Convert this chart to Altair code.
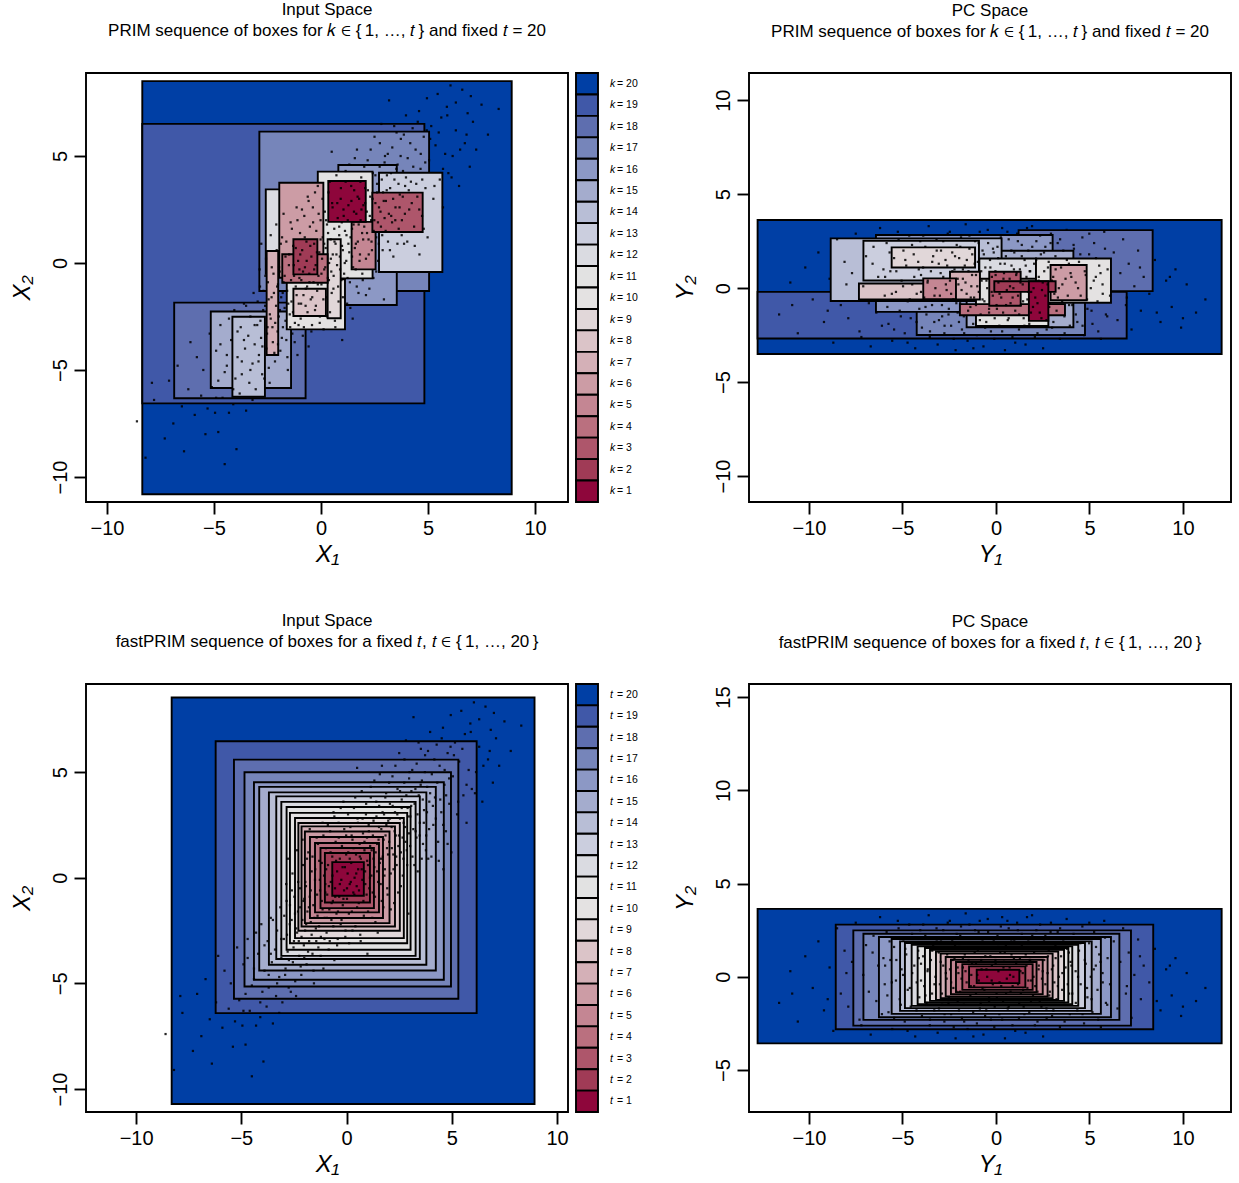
import altair as alt
import pandas as pd

FONT = "Liberation Sans"

# Box level, drawn from the outermost (20) to the innermost (1)
LEVELS = list(range(20, 0, -1))
PALETTE = ["#003FA5", "#4058A8", "#5E6EAF", "#7685BA", "#8C98C5", "#A4ACCD",
           "#B8BED6", "#CBCEDE", "#DADBE1", "#E2E2E2", "#E4E2E2", "#E1D7D9",
           "#DBC4C8", "#D4B0B7", "#CC9CA5", "#C48693", "#BA707F", "#AE566B",
           "#A03B56", "#8E063B"]

# PRIM boxes in input space (k = 20 .. 1)
PRIM_IN_X_LO = [-8.35, -8.35, -6.86, -2.88, 0.81, -5.15, -4.14, 2.71, -2.58, -0.15,
                -1.60, 0.31, -1.29, -2.54, -1.95, 1.43, -1.81, 2.40, -1.29, 0.34]
PRIM_IN_X_HI = [8.91, 4.83, -0.72, 5.05, 3.54, -1.40, -2.62, 5.67, 0.30, 2.41,
                1.12, 0.92, 0.23, -2.00, 0.11, 2.55, 0.31, 4.75, -0.17, 2.09]
PRIM_IN_Y_LO = [-10.81, -6.56, -6.32, -1.31, -1.96, -5.84, -6.25, -0.42, -0.50, -0.72,
                -3.10, -2.58, -2.48, -4.30, -0.69, -0.30, -0.92, 1.45, -0.53, 1.92]
PRIM_IN_Y_HI = [8.50, 6.50, -1.85, 6.14, 4.58, -2.27, -2.51, 4.22, 3.44, 4.27,
                -0.76, 1.11, -1.20, 0.56, 3.75, 1.92, 0.41, 3.29, 1.11, 3.83]

# PRIM boxes in PC space (k = 20 .. 1)
PRIM_PC_X_LO = [-12.75, -12.75, 1.21, -4.24, -6.42, -1.57, -8.84, -7.09, -0.89, -1.07,
                2.14, -5.58, -7.33, -2.46, 2.92, -3.89, -1.93, -0.36, -0.09, 1.76]
PRIM_PC_X_HI = [12.07, 6.99, 8.38, 4.76, 3.03, 4.14, 0.30, -0.91, 2.14, 2.80,
                6.15, -1.12, -1.30, -0.86, 4.85, -2.14, 3.69, 1.32, 3.19, 2.80]
PRIM_PC_Y_LO = [-3.50, -2.68, -0.16, -2.49, -1.26, -2.08, -0.68, 0.41, -1.00, -2.01,
                -0.78, 1.10, -0.60, -0.60, -0.64, -0.59, -1.44, -0.94, -0.20, -1.74]
PRIM_PC_Y_HI = [3.63, -0.20, 3.09, 0.60, 2.83, 1.99, 2.65, 2.52, 1.58, 0.50,
                1.58, 2.17, 0.25, 0.87, 1.23, 0.52, -0.85, 0.87, 0.37, 0.37]

# fastPRIM boxes in input space (t = 20 .. 1)
FAST_IN_X_LO = [-8.31, -6.22, -5.35, -4.85, -4.40, -4.15, -3.69, -3.34, -3.10, -2.85,
                -2.69, -2.45, -2.29, -2.14, -1.98, -1.74, -1.50, -1.24, -1.03, -0.68]
FAST_IN_X_HI = [8.93, 6.18, 5.31, 4.96, 4.62, 4.24, 3.79, 3.48, 3.28, 3.04,
                2.88, 2.72, 2.53, 2.30, 2.04, 1.73, 1.54, 1.30, 1.11, 0.82]
FAST_IN_Y_LO = [-10.71, -6.41, -5.73, -5.15, -4.83, -4.39, -4.12, -3.85, -3.70, -3.41,
                -3.10, -2.86, -2.51, -2.31, -2.15, -1.91, -1.64, -1.44, -1.17, -0.85]
FAST_IN_Y_HI = [8.53, 6.46, 5.59, 4.99, 4.52, 4.30, 4.04, 3.85, 3.59, 3.35,
                3.07, 2.83, 2.59, 2.43, 2.19, 1.93, 1.64, 1.41, 1.17, 0.74]

# fastPRIM boxes in PC space (t = 20 .. 1)
FAST_PC_X_LO = [-12.75, -8.57, -7.63, -7.09, -6.26, -5.58, -5.13, -4.87, -4.51, -4.19,
                -3.80, -3.53, -3.21, -2.96, -2.69, -2.41, -2.14, -1.80, -1.44, -1.03]
FAST_PC_X_HI = [12.07, 8.41, 7.22, 6.60, 6.15, 5.61, 5.12, 4.76, 4.40, 4.08,
                3.87, 3.64, 3.33, 3.03, 2.76, 2.50, 2.17, 1.96, 1.57, 1.25]
FAST_PC_Y_LO = [-3.57, -2.81, -2.62, -2.31, -2.17, -1.99, -1.83, -1.68, -1.56, -1.47,
                -1.38, -1.29, -1.24, -1.15, -1.06, -0.93, -0.82, -0.70, -0.57, -0.34]
FAST_PC_Y_HI = [3.64, 2.80, 2.49, 2.31, 2.13, 2.03, 1.90, 1.81, 1.72, 1.63,
                1.54, 1.45, 1.36, 1.24, 1.06, 0.91, 0.79, 0.68, 0.56, 0.38]

# Observations in input coordinates (X1, X2)
INPUT_POINTS = [
    (-8.6, -7.4), (-8.2, -9.1), (-7.9, -5.6), (-7.8, -6.4), (-7.3, -8.2), (-7.1, -5.5),
    (-6.9, -7.5), (-6.7, -4.8), (-6.5, -6.7), (-6.4, -8.8), (-6.2, -5.9), (-6.1, -3.7),
    (-5.9, -7.1), (-5.8, -4.4), (-5.6, -6.2), (-5.5, -5.0), (-5.4, -8.0), (-5.3, -6.8),
    (-5.2, -3.3), (-5.1, -5.8), (-4.95, -7.0), (-4.9, -4.1), (-4.8, -5.5), (-4.7, -2.9),
    (-4.6, -6.3), (-4.5, -9.4), (-4.4, -4.8), (-4.3, -7.0), (-4.2, -3.6), (-4.1, -5.9),
    (-4.05, -2.2), (-3.95, -8.7), (-3.9, -4.4), (-3.8, -6.1), (-3.75, -3.0), (-3.7, -5.2),
    (-3.6, -1.9), (-3.55, -4.0), (-3.5, -6.9), (-3.4, -3.4), (-3.35, -5.6), (-3.3, -2.5),
    (-3.2, -4.7), (-3.15, -1.4), (-3.1, -3.8), (-3.05, -5.9), (-2.98, -2.9), (-2.9, -4.3),
    (-2.85, -1.1), (-2.8, -3.5), (-2.75, -5.2), (-2.7, -2.2), (-2.6, -0.6), (-2.55, -4.0),
    (-2.5, -3.0), (-2.45, -1.7), (-2.4, -5.6), (-2.35, -2.6), (-2.3, -0.2), (-2.25, -3.7),
    (-2.2, -1.4), (-2.15, -4.6), (-2.1, -2.0), (-2.07, 0.6), (-2.03, -3.2), (-2.01, -1.0),
    (-1.97, -2.5), (-1.93, -0.4), (-1.9, -4.1), (-1.86, -1.6), (-1.82, 1.2), (-1.78, -3.0),
    (-1.75, -0.9), (-1.7, -2.1), (-1.66, 0.3), (-1.62, -3.6), (-1.58, -1.3), (-1.55, -5.0),
    (-1.5, -0.1), (-1.46, -2.4), (-1.42, 1.9), (-1.38, -1.8), (-1.34, -3.3), (-1.3, 0.8),
    (-1.26, -0.6), (-1.22, -2.8), (-1.18, -1.1), (-1.14, 2.6), (-1.1, -4.3), (-1.07, 0.1),
    (-1.04, -1.9), (-1.01, -0.3), (-0.98, 1.4), (-0.95, -2.6), (-0.92, -0.8), (-0.88, 0.6),
    (-0.85, -3.4), (-0.82, -1.5), (-0.78, 2.2), (-0.75, -0.2), (-0.72, -2.0), (-0.68, 1.0),
    (-0.65, -1.1), (-0.62, 3.1), (-0.58, -3.9), (-0.55, -0.5), (-0.52, 1.7), (-0.48, -1.7),
    (-0.45, 0.3), (-0.42, -2.9), (-0.38, 2.6), (-0.35, -0.9), (-0.32, 0.9), (-0.28, -2.2),
    (-0.25, -0.1), (-0.22, 1.5), (-0.18, -1.3), (-0.15, 3.6), (-0.12, -0.6), (-0.08, 0.5),
    (-0.05, -2.5), (-0.02, 2.0), (0.02, -1.0), (0.05, 0.2), (0.08, 1.2), (0.12, -3.1),
    (0.15, -0.3), (0.18, 2.4), (0.22, 0.7), (0.25, -1.6), (0.28, 1.8), (0.32, -0.7),
    (0.35, 3.3), (0.38, 0.0), (0.42, -2.3), (0.45, 1.1), (0.48, -0.4), (0.52, 2.8),
    (0.55, 0.4), (0.58, -1.2), (0.62, 1.6), (0.65, -2.7), (0.68, 0.9), (0.72, 4.1),
    (0.75, -0.1), (0.78, 2.1), (0.82, -1.8), (0.85, 1.3), (0.88, 0.3), (0.92, 3.0),
    (0.95, -0.8), (0.97, 1.9), (0.99, -3.6), (0.5, 5.2), (1.02, 0.6), (1.05, 2.5),
    (1.08, -0.5), (1.12, 1.5), (1.15, 3.8), (1.18, 0.1), (1.22, -1.9), (1.25, 2.0),
    (1.28, 0.9), (1.32, 4.6), (1.35, -0.9), (1.38, 1.2), (1.42, 2.9), (1.45, 0.3),
    (1.48, -2.6), (1.52, 1.8), (1.55, 3.4), (1.58, 0.7), (1.62, -0.3), (1.65, 2.3),
    (1.68, 5.3), (1.72, 1.0), (1.75, -1.4), (1.78, 3.0), (1.82, 0.4), (1.85, 2.0),
    (1.88, 4.0), (1.92, 1.4), (1.95, -0.8), (1.98, 2.7), (2.02, 1.7), (2.06, 3.5),
    (2.1, 0.2), (2.14, 2.4), (2.18, 4.8), (2.22, 1.1), (2.26, -1.2), (2.3, 3.1),
    (2.34, 2.0), (2.38, 0.6), (2.42, 4.2), (2.46, 1.5), (2.5, 5.9), (2.54, 2.8),
    (2.58, -0.4), (2.62, 3.7), (2.66, 1.9), (2.7, 0.9), (2.74, 4.5), (2.78, 2.4),
    (2.82, 6.5), (2.86, 1.3), (2.9, 3.3), (2.94, -1.7), (2.97, 2.1), (2.99, 5.0),
    (3.03, 2.9), (3.08, 4.1), (3.13, 1.0), (3.18, 7.6), (3.23, 3.5), (3.28, 2.2),
    (3.33, 5.4), (3.38, 0.3), (3.43, 3.9), (3.48, 2.6), (3.53, 6.1), (3.58, 4.6),
    (3.63, 1.6), (3.68, 3.2), (3.73, 5.8), (3.78, 2.0), (3.83, 4.3), (3.88, 0.9),
    (3.93, 3.6), (3.97, 6.9), (4.05, 4.9), (4.12, 2.5), (4.2, 3.8), (4.28, 6.3),
    (4.35, 1.7), (4.42, 5.3), (4.5, 3.1), (4.58, 7.1), (4.65, 4.4), (4.72, 2.2),
    (4.8, 5.9), (4.88, 3.5), (4.95, 7.7), (4.98, 1.2), (4.6, 0.4), (5.05, 4.8),
    (5.15, 6.4), (5.25, 3.0), (5.35, 5.5), (5.45, 7.9), (5.55, 3.9), (5.62, 6.8),
    (5.7, 2.6), (5.8, 5.1), (5.88, 7.3), (5.95, 4.2), (6.05, 8.3), (6.15, 5.0),
    (6.3, 6.2), (6.45, 3.6), (6.6, 8.1), (6.72, 5.6), (6.85, 7.0), (6.95, 4.5),
    (7.1, 6.6), (7.25, 5.3), (7.5, 7.4), (7.8, 6.0), (8.3, 7.2),
    (-2.96, -1.8), (-2.92, -4.6), (-2.87, -0.3), (-2.83, -2.7), (-2.79, 0.9), (-2.74, -3.9),
    (-2.69, -1.3), (-2.65, -5.4), (-2.61, -2.0), (-2.57, 0.2), (-2.52, -3.3), (-2.48, -0.9),
    (-2.44, -4.9), (-2.39, -2.4), (-2.35, 1.3), (-2.31, -1.6), (-2.27, -3.0), (-2.22, -0.5),
    (-2.18, -4.2), (-2.14, -2.8), (-2.09, 1.8), (-2.05, -1.1), (-2.01, -3.8), (-1.96, -0.2),
    (-1.92, -2.2), (-1.88, 0.9), (-1.83, -3.5), (-1.79, -1.4), (-1.75, 2.3), (-1.7, -0.6),
    (-1.66, -2.7), (-1.62, 1.0), (-1.57, -4.4), (-1.53, -1.9), (-1.49, 0.4), (-1.44, -3.0),
    (-1.4, -0.8), (-1.36, 1.6), (-1.31, -2.3), (-1.27, -0.1), (-1.23, -3.7), (-1.18, 0.7),
    (-1.14, -1.5), (-1.1, 2.0), (-1.05, -2.9), (-1.01, -0.7), (-0.97, 0.4), (-0.93, -1.9),
    (-0.89, 2.5), (-0.84, -0.4), (-0.8, -3.0), (-0.76, 1.2), (-0.71, -1.2), (-0.67, 0.1),
    (-0.63, -2.3), (-0.58, 2.9), (-0.54, -0.9), (-0.5, 0.8), (-0.45, -3.2), (-0.41, -1.6),
    (-0.37, 1.9), (-0.32, -0.3), (-0.28, 3.3), (-0.24, -2.0), (-0.19, 0.5), (-0.15, -1.0),
    (-0.11, 2.3), (-0.06, -2.8), (-0.02, 1.1), (0.02, -0.5), (0.07, 3.0), (0.11, -1.7),
    (0.15, 0.9), (0.2, -0.2), (0.24, 2.0), (0.28, -2.5), (0.33, 1.4), (0.37, -0.8),
    (0.41, 3.8), (0.46, 0.2), (0.5, -1.4), (0.54, 2.6), (0.59, -0.6), (0.63, 1.0),
    (0.67, -3.0), (0.72, 0.4), (0.76, 2.8), (0.8, -1.1), (0.85, 1.7), (0.89, -0.3),
    (0.93, 3.5), (0.98, 0.8), (1.02, -1.6), (1.06, 2.2), (1.11, 0.0), (1.15, 4.3),
    (1.19, 1.3), (1.24, -0.7), (1.28, 2.7), (1.32, 0.5), (1.37, -2.1), (1.41, 3.6),
    (1.45, 1.6), (1.5, -0.2), (1.54, 2.4), (1.58, 4.9), (1.63, 0.9), (1.67, -1.1),
    (1.71, 3.1), (1.76, 1.8), (1.8, 0.1), (1.84, 3.8), (1.89, 2.5), (1.93, -0.5),
    (1.97, 1.1), (2.02, 4.5), (2.06, 2.8), (2.1, -1.5), (2.15, 1.4), (2.19, 3.4),
    (2.23, 0.4), (2.28, 2.2), (2.32, 5.3), (2.36, 1.0), (2.41, 3.0), (2.45, -0.7),
    (2.49, 2.0), (2.54, 4.1), (2.58, 1.2), (2.62, 3.3), (2.67, 0.1), (2.71, 2.6),
    (2.75, 5.6), (2.8, 1.7), (2.84, 3.9), (2.88, 0.6), (2.93, 2.9), (2.97, 4.7),
    (3.02, 1.5), (3.07, 3.4), (3.12, 5.1), (3.17, 2.3), (3.22, 0.6), (3.27, 4.2),
    (3.32, 1.9), (3.37, 3.0), (3.42, 6.4), (3.47, 2.0), (3.52, 4.4), (3.57, 0.9),
    (3.62, 3.7), (3.67, 2.6), (3.72, 5.0), (3.77, 1.3), (3.82, 3.1), (3.87, 6.0),
    (3.92, 2.3), (3.97, 4.0), (4.03, 1.0), (4.1, 3.4), (4.17, 5.6), (4.24, 2.8),
    (4.31, 4.5), (4.38, 0.8), (4.45, 3.7), (4.52, 6.6), (4.59, 2.5), (4.66, 5.1),
    (4.73, 3.9), (4.8, 1.6), (4.87, 4.7), (4.94, 6.2), (-4.9, -6.3), (-4.7, -3.8),
    (-4.5, -5.1), (-4.3, -2.6), (-4.1, -6.6), (-3.9, -3.2), (-3.7, -4.6), (-3.5, -2.0),
    (-3.3, -5.0), (-3.1, -2.9), (-4.8, -7.9), (-4.4, -4.3), (-4.0, -5.4), (-3.6, -3.6),
    (-3.2, -6.4), (5.1, 5.8), (5.3, 3.6), (5.5, 6.1), (5.7, 4.4), (5.9, 6.9),
    (6.1, 4.0), (6.3, 7.5), (6.5, 5.3), (6.8, 6.0), (7.0, 7.8),
]

# Observations in principal-component coordinates (Y1, Y2)
PC_POINTS = [
    (-11.6, -1.4), (-11.0, 0.3), (-10.6, -2.4), (-10.2, 1.1), (-9.8, -0.6), (-9.5, 1.9),
    (-9.2, -1.8), (-8.9, 0.5), (-8.7, -2.9), (-8.5, 2.6), (-8.3, -0.9), (-8.1, 1.4),
    (-7.9, -1.6), (-7.7, 0.8), (-7.5, 2.9), (-7.3, -2.3), (-7.1, 0.1), (-6.95, 1.7),
    (-6.8, -0.8), (-6.7, -3.1), (-6.55, 2.2), (-6.4, -1.3), (-6.3, 0.6), (-6.2, 3.2),
    (-6.1, -2.0), (-6.02, 1.0), (-5.95, -0.4), (-5.85, 2.4), (-5.75, -1.9), (-5.65, 0.9),
    (-5.55, -2.8), (-5.45, 1.6), (-5.35, -0.2), (-5.25, 3.0), (-5.15, -1.2), (-5.05, 0.4),
    (-4.95, 2.0), (-4.88, -2.4), (-4.8, 1.2), (-4.72, -0.7), (-4.64, 2.8), (-4.56, -1.6),
    (-4.48, 0.2), (-4.4, 1.8), (-4.32, -3.2), (-4.24, -0.3), (-4.16, 1.4), (-4.1, -1.1),
    (-4.05, 2.5), (-4.01, 0.7), (-3.96, -2.1), (-3.9, 1.1), (-3.84, -0.5), (-3.78, 2.2),
    (-3.72, -1.4), (-3.66, 0.3), (-3.6, 3.3), (-3.54, -2.6), (-3.48, 0.9), (-3.42, -0.9),
    (-3.36, 1.7), (-3.3, -1.8), (-3.24, 0.0), (-3.18, 2.6), (-3.12, -3.0), (-3.06, 1.3),
    (-3.0, -0.4), (-2.94, 2.0), (-2.88, -1.5), (-2.82, 0.6), (-2.76, -2.4), (-2.7, 1.5),
    (-2.64, -0.1), (-2.58, 2.9), (-2.52, -1.1), (-2.46, 0.4), (-2.4, -2.0), (-2.34, 1.9),
    (-2.28, -0.6), (-2.22, 1.0), (-2.16, -3.3), (-2.1, 2.3), (-2.05, -1.3), (-2.01, 0.2),
    (-1.97, 1.6), (-1.92, -0.8), (-1.87, 2.7), (-1.82, -2.2), (-1.77, 0.5), (-1.72, -1.5),
    (-1.67, 1.2), (-1.62, 3.4), (-1.57, -0.3), (-1.52, -2.8), (-1.47, 0.9), (-1.42, 2.1),
    (-1.37, -1.0), (-1.32, 0.1), (-1.27, 1.8), (-1.22, -1.9), (-1.17, -0.5), (-1.12, 2.5),
    (-1.07, 0.7), (-1.02, -2.5), (-0.97, 1.4), (-0.92, -0.2), (-0.87, 3.0), (-0.82, -1.4),
    (-0.77, 0.4), (-0.72, 2.0), (-0.67, -3.1), (-0.62, -0.7), (-0.57, 1.1), (-0.52, -1.8),
    (-0.47, 0.0), (-0.42, 2.4), (-0.37, -1.1), (-0.32, 1.5), (-0.27, -2.3), (-0.22, 0.6),
    (-0.17, -0.4), (-0.12, 1.9), (-0.07, -1.6), (-0.03, 0.9), (0.03, -0.9), (0.08, 2.2),
    (0.13, 0.3), (0.18, -2.0), (0.23, 1.3), (0.28, -0.5), (0.33, 3.2), (0.38, -1.3),
    (0.43, 0.8), (0.48, -3.3), (0.53, 1.7), (0.58, -0.1), (0.63, -1.7), (0.68, 2.6),
    (0.73, 0.5), (0.78, -0.8), (0.83, 1.2), (0.88, -2.6), (0.93, 0.0), (0.98, 1.9),
    (1.03, -1.2), (1.08, 0.7), (1.13, 2.9), (1.18, -0.4), (1.23, -2.2), (1.28, 1.0),
    (1.33, -0.9), (1.38, 2.3), (1.43, 0.2), (1.48, -1.6), (1.53, 1.5), (1.58, -3.0),
    (1.63, 0.6), (1.68, -0.6), (1.73, 2.0), (1.78, -1.9), (1.83, 0.9), (1.88, -0.2),
    (1.93, 3.3), (1.98, -1.0), (2.04, 1.3), (2.1, -0.5), (2.16, 2.5), (2.22, -2.4),
    (2.28, 0.4), (2.34, -1.3), (2.4, 1.8), (2.46, -0.1), (2.52, -3.2), (2.58, 0.9),
    (2.64, 2.2), (2.7, -1.7), (2.76, 0.2), (2.82, 1.4), (2.88, -0.8), (2.94, 2.9),
    (3.0, -2.1), (3.06, 0.6), (3.12, -0.3), (3.18, 1.7), (3.24, -1.2), (3.3, 2.4),
    (3.36, 0.0), (3.42, -2.7), (3.48, 1.1), (3.54, -0.7), (3.6, 2.0), (3.66, -1.5),
    (3.72, 0.5), (3.78, 3.1), (3.84, -0.4), (3.9, 1.3), (3.95, -2.0), (3.99, 0.8),
    (4.08, -0.9), (4.17, 2.1), (4.26, 0.3), (4.35, -1.8), (4.44, 1.4), (4.53, -0.4),
    (4.62, 2.7), (4.71, -2.5), (4.8, 0.7), (4.89, -1.1), (4.98, 1.8), (5.07, 0.0),
    (5.16, -1.9), (5.25, 2.4), (5.34, 0.6), (5.43, -0.7), (5.52, 1.2), (5.61, -2.7),
    (5.7, 0.2), (5.79, 3.0), (5.88, -1.4), (5.97, 1.0), (6.1, -0.4), (6.3, 1.9),
    (6.5, -1.7), (6.65, 0.8), (6.8, 2.6), (6.95, -0.9), (7.1, 1.3), (7.25, -2.2),
    (7.4, 0.1), (7.6, 2.0), (7.75, -1.2), (7.9, 0.6), (8.2, -0.3), (8.5, 1.5),
    (8.8, -1.8), (9.1, 0.4), (9.4, -1.0), (9.6, 1.0), (9.9, -2.1), (10.2, 0.2),
    (10.7, -1.3), (11.2, -0.6),
    (-5.93, 0.6), (-5.81, -1.0), (-5.69, 1.9), (-5.57, -0.3), (-5.45, -2.2), (-5.33, 0.9),
    (-5.21, 2.6), (-5.09, -1.5), (-4.97, 0.1), (-4.85, 1.5), (-4.73, -2.9), (-4.61, -0.6),
    (-4.49, 2.3), (-4.37, 0.6), (-4.25, -1.8), (-4.13, 1.0), (-4.01, -0.2), (-3.89, 2.8),
    (-3.77, -1.0), (-3.65, 0.4), (-3.53, -2.3), (-3.41, 1.4), (-3.29, -0.4), (-3.17, 2.0),
    (-3.05, -1.7), (-2.96, 0.8), (-2.89, -0.9), (-2.82, 2.5), (-2.75, -2.0), (-2.68, 0.2),
    (-2.61, 1.2), (-2.54, -1.4), (-2.47, 3.0), (-2.4, -0.3), (-2.33, 0.9), (-2.26, -2.7),
    (-2.19, 1.7), (-2.12, -0.8), (-2.05, 0.5), (-1.98, -1.8), (-1.91, 2.2), (-1.84, -0.1),
    (-1.77, 1.0), (-1.7, -2.4), (-1.63, 0.3), (-1.56, 1.5), (-1.49, -1.2), (-1.42, 2.8),
    (-1.35, -0.5), (-1.28, 0.7), (-1.21, -3.2), (-1.14, 1.3), (-1.07, -0.9), (-1.0, 0.1),
    (-0.93, 2.4), (-0.86, -1.7), (-0.79, 0.9), (-0.72, -0.6), (-0.65, 1.8), (-0.58, -2.1),
    (-0.51, 0.4), (-0.44, 3.1), (-0.37, -1.3), (-0.3, 1.1), (-0.23, -0.2), (-0.16, 2.1),
    (-0.09, -2.7), (-0.02, 0.7), (0.05, -1.1), (0.12, 1.6), (0.19, -0.3), (0.26, 2.7),
    (0.33, -2.3), (0.4, 0.5), (0.47, 1.3), (0.54, -0.9), (0.61, 3.0), (0.68, -1.6),
    (0.75, 0.1), (0.82, 2.0), (0.89, -0.5), (0.96, 1.0), (1.03, -2.9), (1.1, 0.8),
    (1.17, 2.5), (1.24, -1.4), (1.31, 0.3), (1.38, 1.7), (1.45, -0.7), (1.52, -2.0),
    (1.59, 1.2), (1.66, 3.2), (1.73, -0.2), (1.8, 0.9), (1.87, -1.3), (1.94, 2.2),
    (2.01, 0.0), (2.08, -2.6), (2.15, 1.5), (2.22, -0.8), (2.29, 0.6), (2.36, 2.8),
    (2.43, -1.6), (2.5, 0.3), (2.57, 1.9), (2.64, -0.4), (2.71, -2.2), (2.78, 1.1),
    (2.85, -1.0), (2.92, 2.4), (2.99, 0.4), (3.07, -1.8), (3.19, 1.0), (3.31, -0.5),
    (3.43, 2.6), (3.55, 0.2), (3.67, -2.4), (3.79, 1.5), (3.91, -0.9), (4.03, 0.6),
    (4.15, 2.3), (4.27, -1.4), (4.39, 0.0), (4.51, 1.8), (4.63, -2.0), (4.75, 0.9),
    (4.87, -0.6), (4.99, 2.9), (5.11, -1.2), (5.23, 0.4), (5.35, 1.6), (5.47, -2.3),
    (5.59, 0.8), (5.71, -0.3), (5.83, 2.1), (5.95, -1.5), (-9.0, -1.2), (-8.0, 0.2),
    (-7.2, -2.6), (-6.6, 1.3), (7.0, -0.5), (7.7, 1.1), (8.6, -1.3), (9.3, 0.6),
    (-10.9, -0.9), (10.0, -1.6),
]

X_TICKS = [-10, -5, 0, 5, 10]

TITLE_PRIM = "PRIM sequence of boxes for 𝑘 ∈ {\u20091, …, 𝑡\u2009} and fixed 𝑡 = 20"
TITLE_FAST = "fastPRIM sequence of boxes for a fixed 𝑡, 𝑡 ∈ {\u20091, …, 20\u2009}"

PANEL_W = 482
LINE_W = 1.9


def boxes_frame(x_lo, x_hi, y_lo, y_hi):
    return pd.DataFrame({
        "level": LEVELS, "x_lo": x_lo, "x_hi": x_hi,
        "y_lo": y_lo, "y_hi": y_hi, "draw": list(range(len(LEVELS))),
    })


def points_frame(points):
    return pd.DataFrame({"px": [p[0] for p in points], "py": [p[1] for p in points]})


COLOR = alt.Color("level:O", scale=alt.Scale(domain=LEVELS, range=PALETTE), legend=None)


def panel(boxes, pts, xdom, ydom, yticks, xtitle, ytitle, title_lines, height, symbol=None):
    xscale = alt.Scale(domain=xdom, nice=False, zero=False)
    yscale = alt.Scale(domain=ydom, nice=False, zero=False)
    rects = alt.Chart(boxes).mark_rect(stroke="black", strokeWidth=LINE_W).encode(
        x=alt.X("x_lo:Q", scale=xscale, axis=alt.Axis(values=X_TICKS, title=xtitle)),
        x2="x_hi:Q",
        y=alt.Y("y_lo:Q", scale=yscale, axis=alt.Axis(values=yticks, title=ytitle)),
        y2="y_hi:Q",
        color=COLOR,
        order=alt.Order("draw:Q"),
    )
    dots = alt.Chart(pts).mark_square(size=5, color="black", opacity=0.85).encode(
        x=alt.X("px:Q", scale=xscale, title=xtitle),
        y=alt.Y("py:Q", scale=yscale, title=ytitle),
    )
    chart = alt.layer(rects, dots)
    if symbol is not None:
        leg = pd.DataFrame({"level": LEVELS, "label": ["= %d" % v for v in LEVELS]})
        ly = alt.Y("level:O", sort=LEVELS, axis=None,
                   scale=alt.Scale(paddingInner=0, paddingOuter=0))
        cells = alt.Chart(leg).mark_rect(stroke="black", strokeWidth=LINE_W).encode(
            x=alt.value(PANEL_W + 8), x2=alt.value(PANEL_W + 30), y=ly, color=COLOR)
        sym = alt.Chart(leg).mark_text(
            align="left", baseline="middle", font=FONT, fontSize=10.5,
            fontStyle="italic", color="black").encode(
            x=alt.value(PANEL_W + 42), y=ly, text=alt.value(symbol))
        lab = alt.Chart(leg).mark_text(
            align="left", baseline="middle", font=FONT, fontSize=10.5,
            color="black").encode(
            x=alt.value(PANEL_W + 49), y=ly, text="label:N")
        chart = alt.layer(chart, alt.layer(cells, sym, lab)).resolve_scale(y="independent")
    return chart.properties(
        width=PANEL_W, height=height,
        title=alt.TitleParams(text=title_lines, font=FONT, fontSize=17, fontWeight="normal",
                              anchor="middle", frame="group", offset=32, lineHeight=21,
                              color="black"),
    )


inp = points_frame(INPUT_POINTS)
pcs = points_frame(PC_POINTS)

top_left = panel(boxes_frame(PRIM_IN_X_LO, PRIM_IN_X_HI, PRIM_IN_Y_LO, PRIM_IN_Y_HI), inp,
                 [-10.98, 11.54], [-11.17, 8.88], [-10, -5, 0, 5],
                 "X₁", "X₂", ["Input Space", TITLE_PRIM], 429, symbol="k")
top_right = panel(boxes_frame(PRIM_PC_X_LO, PRIM_PC_X_HI, PRIM_PC_Y_LO, PRIM_PC_Y_HI), pcs,
                  [-13.21, 12.57], [-11.38, 11.45], [-10, -5, 0, 5, 10],
                  "Y₁", "Y₂", ["PC Space", TITLE_PRIM], 429)
bottom_left = panel(boxes_frame(FAST_IN_X_LO, FAST_IN_X_HI, FAST_IN_Y_LO, FAST_IN_Y_HI), inp,
                    [-12.38, 10.52], [-11.09, 9.17], [-10, -5, 0, 5],
                    "X₁", "X₂", ["Input Space", TITLE_FAST], 428, symbol="t")
bottom_right = panel(boxes_frame(FAST_PC_X_LO, FAST_PC_X_HI, FAST_PC_Y_LO, FAST_PC_Y_HI), pcs,
                     [-13.21, 12.57], [-7.25, 15.70], [-5, 0, 5, 10, 15],
                     "Y₁", "Y₂", ["PC Space", TITLE_FAST], 428)

chart = alt.concat(
    top_left, top_right, bottom_left, bottom_right,
    columns=2, spacing={"row": 182, "column": 181}, bounds="flush",
).properties(
    padding={"left": 9, "top": 0, "right": 4, "bottom": 4},
    background="white",
).configure_view(
    stroke="black", strokeWidth=LINE_W,
).configure_axis(
    domain=False, grid=False, ticks=True, tickSize=12, tickWidth=LINE_W, tickColor="black",
    labelFont=FONT, labelFontSize=20, labelColor="black", labelPadding=4,
    labelFlush=False, labelOverlap=False,
    titleFont=FONT, titleFontSize=24, titleFontStyle="italic", titleFontWeight="normal",
    titleColor="black",
).configure_axisX(
    titlePadding=4,
).configure_axisY(
    labelAngle=270, labelAlign="center", labelBaseline="bottom",
    titleAngle=270, titlePadding=16,
)

chart.save("out.html", embed_options={"renderer": "svg", "actions": False})
